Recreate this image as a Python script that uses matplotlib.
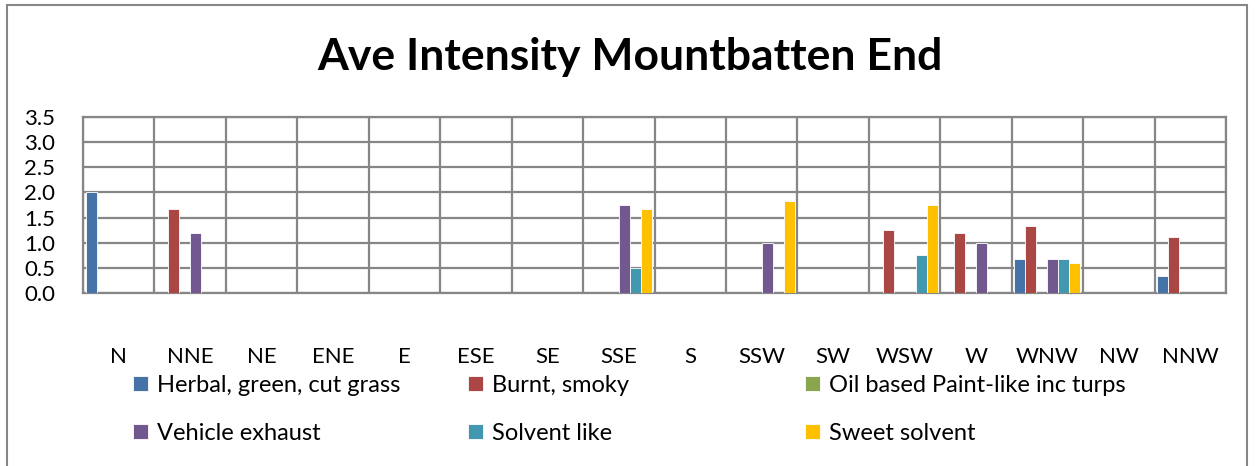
import numpy as np
import matplotlib.pyplot as plt
from matplotlib.patches import Rectangle

plt.rcParams['font.family'] = ['Lato', 'DejaVu Sans']

directions = ['N', 'NNE', 'NE', 'ENE', 'E', 'ESE', 'SE', 'SSE',
              'S', 'SSW', 'SW', 'WSW', 'W', 'WNW', 'NW', 'NNW']

herbal = [2.0, 0, 0, 0, 0, 0, 0, 0, 0, 0, 0, 0, 0, 0.67, 0, 0.33]
burnt = [0, 1.67, 0, 0, 0, 0, 0, 0, 0, 0, 0, 1.25, 1.2, 1.33, 0, 1.11]
oil_paint = [0, 0, 0, 0, 0, 0, 0, 0, 0, 0, 0, 0, 0, 0, 0, 0]
vehicle = [0, 1.2, 0, 0, 0, 0, 0, 1.75, 0, 1.0, 0, 0, 1.0, 0.67, 0, 0]
solvent = [0, 0, 0, 0, 0, 0, 0, 0.5, 0, 0, 0, 0.75, 0, 0.67, 0, 0]
sweet = [0, 0, 0, 0, 0, 0, 0, 1.67, 0, 1.83, 0, 1.75, 0, 0.6, 0, 0]

series = [herbal, burnt, oil_paint, vehicle, solvent, sweet]
names = ['Herbal, green, cut grass', 'Burnt, smoky', 'Oil based Paint-like inc turps',
         'Vehicle exhaust', 'Solvent like', 'Sweet solvent']
colors = ['#4572A7', '#AA4643', '#89A54E', '#71588F', '#4198AF', '#FFC000']

grid_c = '#868686'

fig = plt.figure(figsize=(12.55, 4.66), dpi=100)
ax = fig.add_axes([83 / 1255, 1 - 293 / 466, (1226 - 83) / 1255, (293 - 117) / 466])

x = np.arange(len(directions))
w = 0.154
handles = []
for i, (vals, c) in enumerate(zip(series, colors)):
    b = ax.bar(x + (i - 2.5) * w, vals, width=w, color=c, edgecolor='white',
               linewidth=0.6, zorder=3)
    handles.append(b)

ax.set_xlim(-0.5, len(directions) - 0.5)
ax.set_ylim(0, 3.5)
ax.set_yticks(np.arange(0, 3.51, 0.5))
ax.set_yticklabels([f'{v:.1f}' for v in np.arange(0, 3.51, 0.5)], fontsize=16)
ax.set_xticks(x)
ax.set_xticklabels(directions, fontsize=16)
ax.set_xticks(np.arange(-0.5, len(directions)), minor=True)
ax.tick_params(axis='x', which='major', length=0, pad=39)
ax.tick_params(axis='x', which='minor', length=0)
ax.tick_params(axis='y', length=0, pad=20)
ax.grid(axis='y', which='major', color=grid_c, lw=1.6, zorder=0)
ax.grid(axis='x', which='minor', color=grid_c, lw=1.6, zorder=0)
for s in ax.spines.values():
    s.set_color(grid_c)
    s.set_linewidth(1.6)

fig.text(0.502, 1 - 57 / 466, 'Ave Intensity Mountbatten End', ha='center',
         va='center', fontsize=32, fontweight='bold')

# legend, three columns of two rows
col_x = [133 / 1255, 468 / 1255, 805 / 1255]
for j in range(3):
    fig.legend([handles[j], handles[j + 3]], [names[j], names[j + 3]],
               loc='upper left', bbox_to_anchor=(col_x[j], 1 - 375 / 466),
               frameon=False, fontsize=17, handlelength=0.62, handleheight=0.62,
               handletextpad=0.4, labelspacing=1.15, borderpad=0, borderaxespad=0)

fig.add_artist(Rectangle((7 / 1255, -0.01), (1247 - 7) / 1255, (466 - 5) / 466 + 0.01,
                         transform=fig.transFigure, fill=False, ec=grid_c, lw=1.5))

fig.savefig('out.png', dpi=100)
